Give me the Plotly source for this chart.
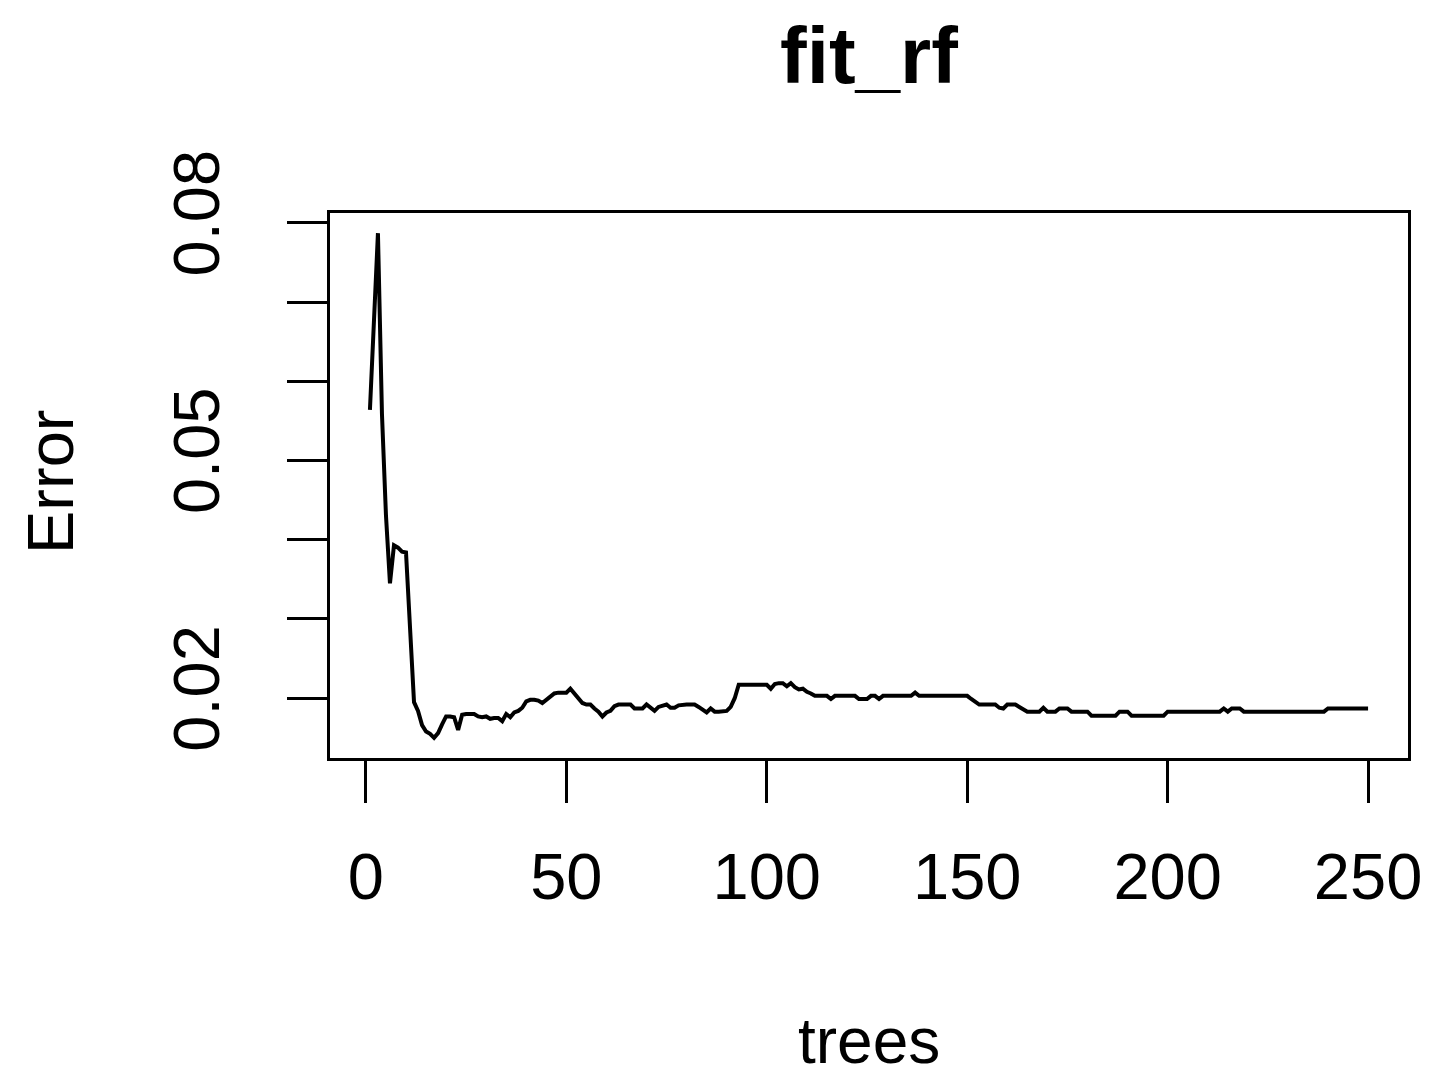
import plotly.graph_objects as go

# ---- data ----
trees = list(range(1, 251))
error = [
    0.0564, 0.0664, 0.0787, 0.0559, 0.0431, 0.0345, 0.0393, 0.0390, 0.0385, 0.0384,
    0.0292, 0.0195, 0.0184, 0.0166, 0.0158, 0.0155, 0.0150, 0.0156, 0.0167, 0.0177,
    0.0177, 0.0176, 0.0160, 0.0179, 0.0180, 0.0180, 0.0180, 0.0177, 0.0176, 0.0177,
    0.0174, 0.0175, 0.0175, 0.0171, 0.0180, 0.0176, 0.0182, 0.0184, 0.0188, 0.0196,
    0.0198, 0.0198, 0.0197, 0.0194, 0.0198, 0.0203, 0.0206, 0.0207, 0.0207, 0.0207,
    0.0212, 0.0206, 0.0200, 0.0194, 0.0192, 0.0192, 0.0187, 0.0183, 0.0177, 0.0182,
    0.0184, 0.0190, 0.0192, 0.0192, 0.0192, 0.0192, 0.0187, 0.0187, 0.0187, 0.0192,
    0.0188, 0.0184, 0.0189, 0.0190, 0.0192, 0.0188, 0.0188, 0.0191, 0.0192, 0.0192,
    0.0192, 0.0192, 0.0189, 0.0185, 0.0182, 0.0187, 0.0183, 0.0183, 0.0183, 0.0184,
    0.0189, 0.0200, 0.0217, 0.0217, 0.0217, 0.0217, 0.0217, 0.0217, 0.0217, 0.0217,
    0.0212, 0.0218, 0.0219, 0.0219, 0.0215, 0.0219, 0.0214, 0.0211, 0.0212, 0.0208,
    0.0206, 0.0203, 0.0203, 0.0203, 0.0203, 0.0199, 0.0203, 0.0203, 0.0203, 0.0203,
    0.0203, 0.0203, 0.0199, 0.0199, 0.0199, 0.0203, 0.0203, 0.0199, 0.0203, 0.0203,
    0.0203, 0.0203, 0.0203, 0.0203, 0.0203, 0.0203, 0.0207, 0.0203, 0.0203, 0.0203,
    0.0203, 0.0203, 0.0203, 0.0203, 0.0203, 0.0203, 0.0203, 0.0203, 0.0203, 0.0203,
    0.0199, 0.0196, 0.0192, 0.0192, 0.0192, 0.0192, 0.0192, 0.0188, 0.0187, 0.0192,
    0.0192, 0.0192, 0.0189, 0.0186, 0.0183, 0.0183, 0.0183, 0.0183, 0.0188, 0.0183,
    0.0183, 0.0183, 0.0187, 0.0187, 0.0187, 0.0183, 0.0183, 0.0183, 0.0183, 0.0183,
    0.0178, 0.0178, 0.0178, 0.0178, 0.0178, 0.0178, 0.0178, 0.0183, 0.0183, 0.0183,
    0.0178, 0.0178, 0.0178, 0.0178, 0.0178, 0.0178, 0.0178, 0.0178, 0.0178, 0.0183,
    0.0183, 0.0183, 0.0183, 0.0183, 0.0183, 0.0183, 0.0183, 0.0183, 0.0183, 0.0183,
    0.0183, 0.0183, 0.0183, 0.0187, 0.0183, 0.0187, 0.0187, 0.0187, 0.0183, 0.0183,
    0.0183, 0.0183, 0.0183, 0.0183, 0.0183, 0.0183, 0.0183, 0.0183, 0.0183, 0.0183,
    0.0183, 0.0183, 0.0183, 0.0183, 0.0183, 0.0183, 0.0183, 0.0183, 0.0183, 0.0187,
    0.0187, 0.0187, 0.0187, 0.0187, 0.0187, 0.0187, 0.0187, 0.0187, 0.0187, 0.0187,
]
x_tick_vals = [0, 50, 100, 150, 200, 250]
y_tick_vals = [0.02, 0.03, 0.04, 0.05, 0.06, 0.07, 0.08]
y_tick_text = ["0.02", "", "", "0.05", "", "", "0.08"]
title_text = "fit_rf"
x_label = "trees"
y_label = "Error"

FONT = "Liberation Sans, Arial, sans-serif"

# page body has an 8px margin, so the figure is drawn 8px in from the corner
W, H = 1436, 1071
OFF = 8
L, R_, T, B = 330 - OFF, 1408 - OFF, 213 - OFF, 758 - OFF  # plot box in figure px
PW, PH = R_ - L, B - T

fig = go.Figure()
fig.add_trace(go.Scatter(
    x=trees, y=error, mode="lines",
    line=dict(color="black", width=4),
    showlegend=False, hoverinfo="skip",
))

xmin, xmax = min(trees), max(trees)
ymin, ymax = min(error), max(error)
xpad = 0.04 * (xmax - xmin)
ypad = 0.04 * (ymax - ymin)

fig.update_layout(
    width=W, height=H,
    paper_bgcolor="white", plot_bgcolor="white",
    margin=dict(l=L, r=W - R_, t=T, b=H - B, pad=0),
    font=dict(family=FONT, color="black", size=65),
    title=dict(
        text="<b>" + title_text + "</b>",
        font=dict(family=FONT, size=80, color="black"),
        x=0.5, xref="paper", xanchor="center",
        y=1 - (55 - OFF) / H, yref="container", yanchor="middle",
    ),
    xaxis=dict(
        range=[xmin - xpad, xmax + xpad],
        tickvals=x_tick_vals,
        ticktext=[str(v) for v in x_tick_vals],
        ticks="outside", ticklen=42, tickwidth=3, tickcolor="black",
        showline=True, linecolor="black", linewidth=3, mirror=True,
        showgrid=False, zeroline=False,
        tickfont=dict(family=FONT, size=65, color="black"),
        ticklabelstandoff=18,
    ),
    yaxis=dict(
        range=[ymin - ypad, ymax + ypad],
        tickvals=y_tick_vals,
        ticktext=y_tick_text,
        tickangle=-90,
        ticks="outside", ticklen=40, tickwidth=3, tickcolor="black",
        showline=True, linecolor="black", linewidth=3, mirror=True,
        showgrid=False, zeroline=False,
        tickfont=dict(family=FONT, size=65, color="black"),
        ticklabelstandoff=42,
    ),
    annotations=[
        dict(text=x_label, xref="paper", yref="paper",
             x=0.5, y=-(H - 1 - B) / PH, xanchor="center", yanchor="bottom",
             borderpad=0,
             showarrow=False, font=dict(family=FONT, size=64, color="black")),
        dict(text=y_label, xref="paper", yref="paper",
             x=-(330 - 50) / PW, y=(758 - 482) / PH, xanchor="center", yanchor="middle",
             textangle=-90,
             showarrow=False, font=dict(family=FONT, size=65, color="black")),
    ],
)

fig.write_html("out.html")
